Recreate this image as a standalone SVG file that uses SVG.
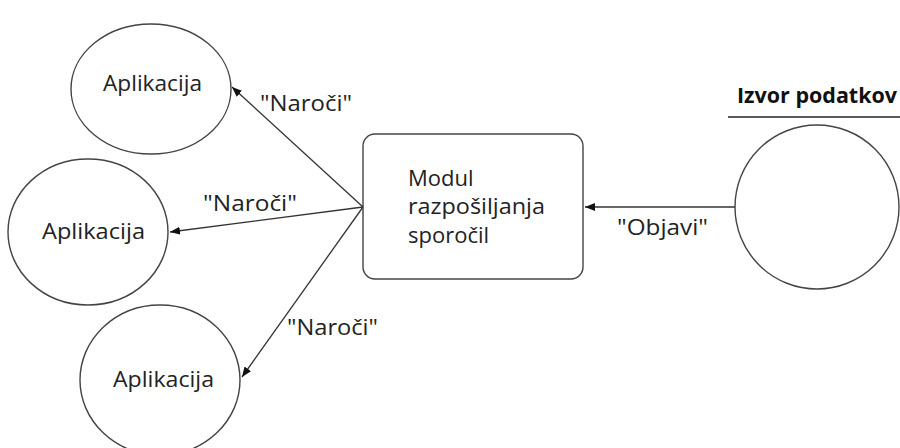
<svg xmlns="http://www.w3.org/2000/svg" width="900" height="448" viewBox="0 0 900 448">
<defs>
<style>
.node{fill:#fff;stroke:#444;stroke-width:1.4}
.lbl{font-family:"Open Sans","Noto Sans",sans-serif;font-size:22px;fill:#222}
.title{font-family:"Open Sans","Noto Sans",sans-serif;font-size:21.5px;font-weight:bold;fill:#111}
.conn{stroke:#333;stroke-width:1.3;fill:none;marker-end:url(#arr)}
</style>
<marker id="arr" viewBox="0 0 10 8" refX="10" refY="4" markerWidth="10" markerHeight="8" markerUnits="userSpaceOnUse" orient="auto">
<path d="M0,0 L10,4 L0,8 z" fill="#111"/>
</marker>
</defs>
<rect width="900" height="448" fill="#fff"/>
<g id="app1">
<ellipse class="node" cx="151" cy="89" rx="80" ry="65"/>
<text class="lbl" x="103" y="91" textLength="99" lengthAdjust="spacingAndGlyphs">Aplikacija</text>
</g>
<g id="app2">
<ellipse class="node" cx="88" cy="232" rx="80" ry="73"/>
<text class="lbl" x="42" y="239" textLength="103" lengthAdjust="spacingAndGlyphs">Aplikacija</text>
</g>
<g id="app3">
<ellipse class="node" cx="160" cy="380" rx="80" ry="75"/>
<text class="lbl" x="113" y="387" textLength="101" lengthAdjust="spacingAndGlyphs">Aplikacija</text>
</g>
<g id="broker">
<rect class="node" x="363" y="134" width="220" height="145" rx="12" ry="12"/>
<text class="lbl" x="408" y="186">Modul</text>
<text class="lbl" x="408" y="214" textLength="137" lengthAdjust="spacingAndGlyphs">razpošiljanja</text>
<text class="lbl" x="408" y="243">sporočil</text>
</g>
<g id="source">
<text class="title" x="737" y="103" textLength="160" lengthAdjust="spacingAndGlyphs">Izvor podatkov</text>
<line x1="728" y1="117" x2="900" y2="117" stroke="#222" stroke-width="1.6"/>
<ellipse class="node" cx="817" cy="207" rx="82" ry="82"/>
</g>
<g id="connectors">
<line class="conn" x1="363" y1="207" x2="232" y2="87"/>
<line class="conn" x1="363" y1="207" x2="170" y2="232"/>
<line class="conn" x1="363" y1="207" x2="242" y2="377"/>
<line class="conn" x1="735" y1="207" x2="585" y2="207"/>
<text class="lbl" x="260" y="111" textLength="92" lengthAdjust="spacingAndGlyphs">"Naroči"</text>
<text class="lbl" x="203" y="211" textLength="94" lengthAdjust="spacingAndGlyphs">"Naroči"</text>
<text class="lbl" x="287" y="335" textLength="91" lengthAdjust="spacingAndGlyphs">"Naroči"</text>
<text class="lbl" x="617" y="235" textLength="91" lengthAdjust="spacingAndGlyphs">"Objavi"</text>
</g>
</svg>
